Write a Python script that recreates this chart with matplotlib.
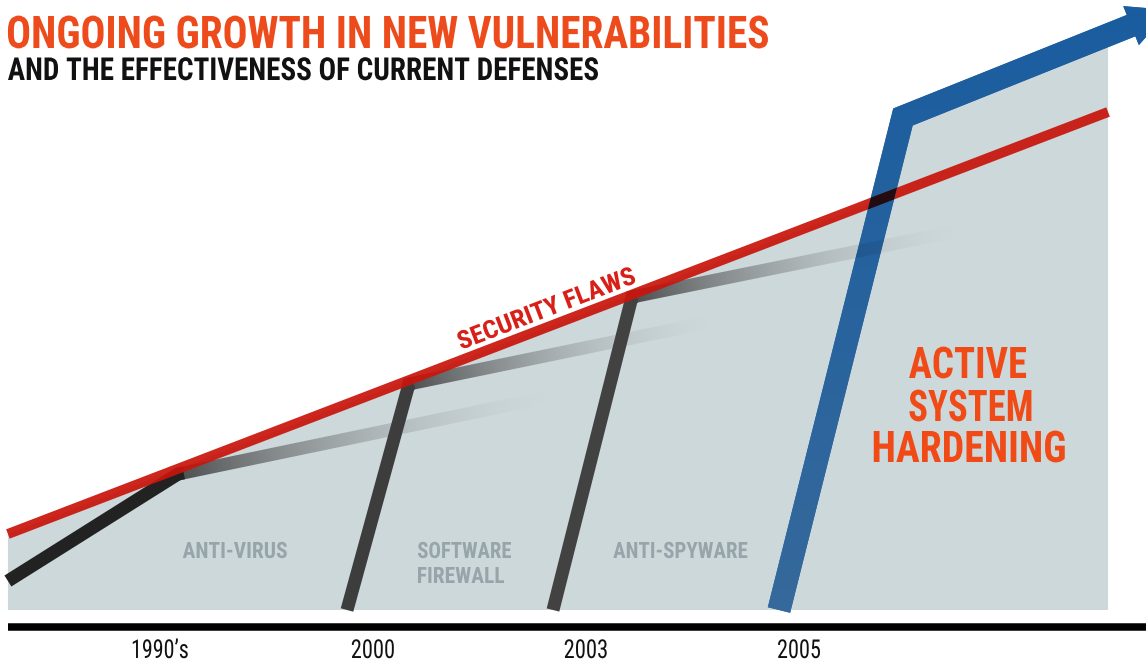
import numpy as np
import matplotlib
matplotlib.use("Agg")
import matplotlib.pyplot as plt
from matplotlib import font_manager as fm
from matplotlib.font_manager import FontProperties
from matplotlib.textpath import TextPath
from matplotlib.patheffects import AbstractPathEffect
from matplotlib.transforms import Affine2D, blended_transform_factory
from matplotlib.patches import Polygon
from matplotlib.colors import to_rgb

# ---------------- data (x: period index, y: vulnerability level) ----------------
periods = ["1990\u2019s", "2000", "2003", "2005"]
period_pos = [0, 1, 2, 3]

flaws_x = [-0.714, 4.451]
flaws_y = [0.76, 4.98]

antivirus_x = [-0.714, 0.085, 1.822]
antivirus_y = [0.29, 1.36, 2.13]

firewall_x = [0.878, 1.169, 2.582]
firewall_y = [0.0, 2.26, 2.88]

antispy_x = [1.845, 2.216, 3.742]
antispy_y = [0.0, 3.13, 3.79]

hardening_x = [2.906, 3.488, 4.742]
hardening_y = [0.0, 4.93, 6.00]

title = "ONGOING GROWTH IN NEW VULNERABILITIES"
subtitle = "AND THE EFFECTIVENESS OF CURRENT DEFENSES"
flaws_label = "SECURITY FLAWS"
hardening_label = ["ACTIVE", "SYSTEM", "HARDENING"]

# ---------------- layout ----------------
W, H, DPI = 1146, 664, 100
X0, DXP = 160.0, 213.0     # pixel of period 0, pixels per period
Y0, DYP = 610.0, 100.0     # pixel of level 0, pixels per level unit

fig = plt.figure(figsize=(W / DPI, H / DPI), dpi=DPI)
fig.patch.set_facecolor("white")
ax = fig.add_axes([0, 0, 1, 1])
XLIM = ((0 - X0) / DXP, (W - X0) / DXP)
YLIM = ((Y0 - H) / DYP, Y0 / DYP)
ax.set_xlim(*XLIM)
ax.set_ylim(*YLIM)
ax.axis("off")
T = ax.transData

names = {f.name for f in fm.fontManager.ttflist}
FAMILY = next((n for n in ["Roboto Condensed", "Liberation Sans Narrow",
                           "Open Sans Condensed", "Roboto", "Liberation Sans",
                           "DejaVu Sans"] if n in names), "DejaVu Sans")


class Condense(AbstractPathEffect):
    """Horizontally condense glyphs along the text direction."""
    def __init__(self, sx, align="left"):
        super().__init__()
        self.sx = sx
        self.align = align

    def draw_path(self, renderer, gc, tpath, affine, rgbFace=None):
        cx = 0.0
        if self.align == "center":
            e = tpath.get_extents()
            cx = 0.5 * (e.x0 + e.x1)
        pre = Affine2D().translate(-cx, 0).scale(self.sx, 1.0).translate(cx, 0)
        renderer.draw_path(gc, tpath, pre + affine, rgbFace)


def put_text(s, x, y, cap, width, weight, color, ha="left", va="baseline",
             rotation=0.0, transform=None, zorder=10):
    fp = FontProperties(family=FAMILY, weight=weight)
    hgt = TextPath((0, 0), "H", size=100, prop=fp).get_extents().height / 100.0
    size_px = cap / hgt
    ext = TextPath((0, 0), s, size=size_px, prop=fp).get_extents()
    sx = width / ext.width
    fp.set_size(size_px * 72.0 / DPI)
    if transform is None:
        if ha == "left" and rotation == 0:
            x = x - ext.x0 * sx
        pos = (x / W, 1 - y / H)
        transform = fig.transFigure
    else:
        pos = (x, 1 - y / H)
    t = ax.text(pos[0], pos[1], s, fontproperties=fp, color=color, ha=ha,
                va=va, rotation=rotation, rotation_mode="anchor",
                transform=transform, zorder=zorder)
    t.set_path_effects([Condense(sx, "center" if ha == "center" else "left")])
    return t


# pixel grid (display coordinates, y up) used for gradient rendering
GX, GY = np.meshgrid(np.arange(W) + 0.5, H - (np.arange(H) + 0.5))


def show_rgba(img, zorder, clip=None):
    im = ax.imshow(img, extent=(XLIM[0], XLIM[1], YLIM[0], YLIM[1]), origin="upper",
                   interpolation="nearest", aspect="auto", zorder=zorder)
    if clip is not None:
        im.set_clip_path(clip)
    return im


def fade_rgba(K, E, hw, c0, c1, amax=1.0, gamma=1.3):
    v = E - K
    L = np.hypot(*v)
    d = v / L
    rx, ry = GX - K[0], GY - K[1]
    t = (rx * d[0] + ry * d[1]) / L
    dist = np.abs(-rx * d[1] + ry * d[0])
    edge = np.clip(hw + 0.5 - dist, 0, 1)
    along = np.clip(1 - t, 0, 1) ** gamma * (t >= 0)
    a = edge * along * amax
    tc = np.clip(t, 0, 1)[..., None]
    rgb = np.array(to_rgb(c0)) + (np.array(to_rgb(c1)) - np.array(to_rgb(c0))) * tc
    return np.dstack([rgb, a])


# ---------------- background panel ----------------
def intersect(p1, p2, p3, p4):
    p1, p2, p3, p4 = map(np.asarray, (p1, p2, p3, p4))
    d1, d2 = p2 - p1, p4 - p3
    den = d1[0] * d2[1] - d1[1] * d2[0]
    t = ((p3[0] - p1[0]) * d2[1] - (p3[1] - p1[1]) * d2[0]) / den
    return p1 + t * d1

cross = intersect((flaws_x[0], flaws_y[0]), (flaws_x[1], flaws_y[1]),
                  (hardening_x[0], hardening_y[0]), (hardening_x[1], hardening_y[1]))
xr = flaws_x[1]
yr = hardening_y[1] + (xr - hardening_x[1]) * (hardening_y[2] - hardening_y[1]) / (hardening_x[2] - hardening_x[1])
panel = [(flaws_x[0], 0), (flaws_x[0], flaws_y[0]), tuple(cross),
         (hardening_x[1], hardening_y[1]), (xr, yr), (xr, 0)]
ax.add_patch(Polygon(panel, closed=True, facecolor="#cdd8db", edgecolor="none", zorder=1))

# ---------------- defense lines ----------------
DEF_W = 13.0
LW_DEF = DEF_W * 72.0 / DPI
FADE0, FADE1 = "#4e4e4e", "#9aa2a5"
fade_geom = []

def draw_defense(xs, ys, solid_color):
    P = T.transform(np.column_stack([xs, ys]))
    K, E = P[1], P[2]
    step = T.inverted().transform(K + (E - K) * 0.015)
    ax.plot([xs[0], xs[1], step[0]], [ys[0], ys[1], step[1]], color=solid_color,
            lw=LW_DEF, solid_joinstyle="miter", solid_capstyle="butt", zorder=3)
    show_rgba(fade_rgba(K, E, DEF_W / 2, FADE0, FADE1), zorder=2)
    fade_geom.append((K, E))

draw_defense(antivirus_x, antivirus_y, "#222222")
draw_defense(firewall_x, firewall_y, "#3d3d3d")
draw_defense(antispy_x, antispy_y, "#424242")

# ---------------- security flaws ----------------
LW_RED = 10 * 72.0 / DPI
ax.plot(flaws_x, flaws_y, color="#c8150c", lw=LW_RED, alpha=0.93,
        solid_capstyle="butt", zorder=4)

# ---------------- active hardening arrow ----------------
P = T.transform(np.column_stack([hardening_x, hardening_y]))
p0, knee, tip = P
d1 = (knee - p0) / np.hypot(*(knee - p0))
d2 = (tip - knee) / np.hypot(*(tip - knee))
n1 = np.array([-d1[1], d1[0]])
n2 = np.array([-d2[1], d2[0]])
HW, HEAD_LEN, HEAD_HALF = 11.5, 42.0, 21.0
base = tip - d2 * HEAD_LEN

def line_x(a, da, b, db):
    den = da[0] * db[1] - da[1] * db[0]
    s = ((b[0] - a[0]) * db[1] - (b[1] - a[1]) * db[0]) / den
    return a + s * da

mL = line_x(p0 + n1 * HW, d1, knee + n2 * HW, d2)
mR = line_x(p0 - n1 * HW, d1, knee - n2 * HW, d2)
outline = np.vstack([p0 + n1 * HW, mL, base + n2 * HW, base + n2 * HEAD_HALF, tip,
                     base - n2 * HEAD_HALF, base - n2 * HW, mR, p0 - n1 * HW])
band = Polygon(T.inverted().transform(outline), closed=True, facecolor="#2963a0",
               edgecolor="none", zorder=5)
ax.add_patch(band)

# vertical gradient inside the arrow
yb, yt = H - Y0, H - 10.0
tt = np.clip((GY - yb) / (yt - yb), 0, 1)[..., None]
cb, ct = np.array(to_rgb("#36699b")), np.array(to_rgb("#1a5da0"))
blue_img = np.dstack([cb + (ct - cb) * tt, np.ones(GX.shape)])
show_rgba(blue_img, zorder=5.1, clip=band)

# darker overlap where lines pass beneath the arrow
ax.plot(flaws_x, flaws_y, color="#230b10", lw=LW_RED, solid_capstyle="butt",
        zorder=5.2, clip_path=band)
for K, E in fade_geom:
    show_rgba(fade_rgba(K, E, DEF_W / 2, "#000000", "#000000", amax=0.45), zorder=5.3, clip=band)

# ---------------- time axis ----------------
bar_y = (Y0 - 626.5) / DYP
ax.plot([flaws_x[0], XLIM[1]], [bar_y, bar_y], color="black",
        lw=7.5 * 72.0 / DPI, solid_capstyle="butt", zorder=3)
tick_tf = blended_transform_factory(ax.transData, fig.transFigure)
tick_widths = [55, 42, 42, 42]
for lab, xp, w in zip(periods, period_pos, tick_widths):
    put_text(lab, xp, 663, 18.5, w, "normal", "#111111", ha="center", va="bottom",
             transform=tick_tf)

# ---------------- texts ----------------
put_text(title, 8, 48, 32, 760, "bold", "#ee4b1c")
put_text(subtitle, 8, 80, 22.5, 590, "bold", "#111111")

GRAYTXT = "#97a4a9"
put_text("ANTI-VIRUS", 235, 558, 16, 104, "bold", GRAYTXT, ha="center")
put_text("SOFTWARE", 418, 558, 16, 93, "bold", GRAYTXT)
put_text("FIREWALL", 418, 583, 16, 86, "bold", GRAYTXT)
put_text("ANTI-SPYWARE", 680.5, 558, 16, 134, "bold", GRAYTXT, ha="center")

ORANGE = "#f04a17"
for lab, ybase, w, cx in zip(hardening_label, [378, 421, 462], [117, 122, 191], [968, 971, 969]):
    put_text(lab, cx, ybase, 31, w, "bold", ORANGE, ha="center")

pr = T.transform(np.column_stack([flaws_x, flaws_y]))
ang = np.degrees(np.arctan2(pr[1, 1] - pr[0, 1], pr[1, 0] - pr[0, 0]))
put_text(flaws_label, 461, 350, 18, 187, "bold", "#d81f18", rotation=ang)

ax.set_xlim(*XLIM)
ax.set_ylim(*YLIM)
fig.savefig("out.png", dpi=DPI, facecolor="white")
